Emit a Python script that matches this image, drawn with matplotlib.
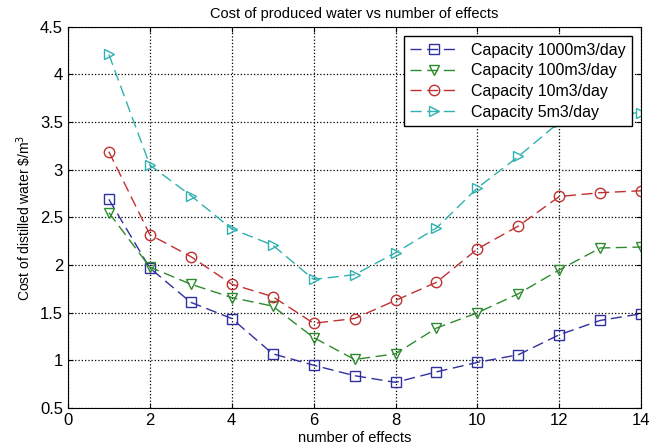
import numpy as np
import matplotlib.pyplot as plt

plt.rcParams['font.family'] = ['Liberation Sans', 'DejaVu Sans']

#number of effects
effects = [1, 2, 3, 4, 5, 6, 7, 8, 9, 10, 11, 12, 13, 14]

#cost of distilled water for each capacity
cost_1000 = [2.69, 1.97, 1.61, 1.44, 1.07, 0.95, 0.84, 0.77, 0.88, 0.98, 1.06, 1.27, 1.42, 1.49]
cost_100 = [2.55, 1.98, 1.80, 1.66, 1.57, 1.24, 1.01, 1.07, 1.34, 1.50, 1.70, 1.95, 2.18, 2.19]
cost_10 = [3.19, 2.32, 2.09, 1.80, 1.67, 1.39, 1.44, 1.63, 1.82, 2.17, 2.41, 2.72, 2.76, 2.78]
cost_5 = [4.21, 3.05, 2.73, 2.38, 2.21, 1.85, 1.90, 2.13, 2.39, 2.81, 3.14, 3.50, 3.57, 3.60]

labels = ['Capacity 1000m3/day', 'Capacity 100m3/day', 'Capacity 10m3/day', 'Capacity 5m3/day']

fig = plt.figure(figsize=(6.53, 4.47), dpi=100)
ax = fig.add_axes([0.104, 0.087, 0.878, 0.853])

series = [cost_1000, cost_100, cost_10, cost_5]
colors = ['#3030a0', '#2e8a2e', '#c03030', '#30b0b0']
markers = ['s', 'v', 'o', '>']
for vals, c, m, lab in zip(series, colors, markers, labels):
    ax.plot(effects, vals, linestyle=(0, (8, 4)), color=c, marker=m, markersize=7.5,
            markerfacecolor='none', markeredgecolor=c, linewidth=1, label=lab)

ax.set_xlim(0, 14)
ax.set_ylim(0.5, 4.5)
ax.set_xticks(np.arange(0, 15, 2))
ax.set_yticks(np.arange(0.5, 4.6, 0.5))
ax.set_yticklabels(['0.5', '1', '1.5', '2', '2.5', '3', '3.5', '4', '4.5'])
ax.grid(True, linestyle=':', color='black', linewidth=0.9)
ax.tick_params(direction='in', labelsize=12, top=True, right=True)

ax.set_xlabel('number of effects', fontsize=10.5, labelpad=2)
ax.set_ylabel(r'Cost of distilled water \$/m$^3$', fontsize=10)
ax.set_title('Cost of produced water vs number of effects', fontsize=10.5)

leg = ax.legend(loc='upper right', fontsize=11.5, fancybox=False, framealpha=1,
                edgecolor='black', handlelength=3, borderaxespad=0.6,
                labelspacing=0.35, borderpad=0.4)
leg.get_frame().set_linewidth(1)

fig.savefig('out.png', dpi=100)
